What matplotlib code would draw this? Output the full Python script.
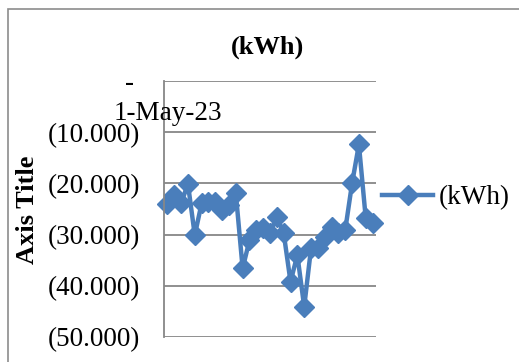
import pandas as pd
import matplotlib.pyplot as plt
from matplotlib.patches import Rectangle

# Daily readings for May 2023 (kWh, logged as negative values)
dates = pd.date_range('2023-05-01', '2023-05-31', freq='D')
kwh = [-24.0, -22.3, -23.9, -20.1, -30.1, -23.9, -23.6, -23.6, -25.2, -24.2,
       -21.9, -36.6, -31.1, -29.1, -28.8, -29.7, -26.5, -29.7, -39.2, -34.0,
       -44.1, -32.7, -32.7, -30.4, -28.5, -29.7, -29.1, -20.0, -12.4, -26.8,
       -27.8]
y_ticks = [0, -10, -20, -30, -40, -50]

plt.rcParams['font.family'] = 'Liberation Serif'
blue = '#4a7ebb'
grey = '#878787'

fig = plt.figure(figsize=(5.19, 3.62), dpi=100)
fig.patch.set_facecolor('white')

# chart frame (runs off the right and bottom edges)
fig.patches.append(Rectangle((8 / 519, -0.1), 1.2, 1 - 9 / 362 + 0.1,
                             transform=fig.transFigure, fill=False,
                             edgecolor='#8c8c8c', linewidth=1.2))

ax = fig.add_axes([164 / 519, 1 - 337 / 362, 212 / 519, 256 / 362])
x = range(len(kwh))
ax.plot(x, kwh, color=blue, linewidth=3.2, marker='D', markersize=10,
        markerfacecolor=blue, markeredgecolor=blue, label='(kWh)',
        clip_on=False)

ax.set_xlim(-0.5, len(kwh) - 0.5)
ax.set_ylim(-50, 0)
ax.set_yticks(y_ticks)
ax.set_yticklabels(['- ' if v == 0 else '({:.3f})'.format(abs(v)) for v in y_ticks])
ax.tick_params(axis='y', length=0, pad=17, labelsize=19.5)
ax.set_xticks([])
ax.grid(axis='y', color=grey, linewidth=1.3)
ax.set_axisbelow(True)
for side in ['top', 'right', 'bottom']:
    ax.spines[side].set_visible(False)
ax.spines['left'].set_color(grey)
ax.spines['left'].set_linewidth(1.3)

# only the first category label is shown, just under the top axis line
ax.text(0, -6.4, dates[0].strftime('%-d-%b-%y'), ha='center', va='center',
        fontsize=19.5, clip_on=False)

fig.text(267 / 519, 1 - 47 / 362, '(kWh)', ha='center', va='center',
         fontsize=19, fontweight='bold')
fig.text(28 / 519, 1 - 210 / 362, 'Axis Title', ha='center', va='center',
         rotation=90, fontsize=19, fontweight='bold')

ax.legend(loc='center left', bbox_to_anchor=(382 / 519, 1 - 198 / 362),
          bbox_transform=fig.transFigure, frameon=False, fontsize=19.5,
          handlelength=1.9, handletextpad=0.2, borderpad=0, borderaxespad=0)

fig.savefig('out.png', dpi=100)
